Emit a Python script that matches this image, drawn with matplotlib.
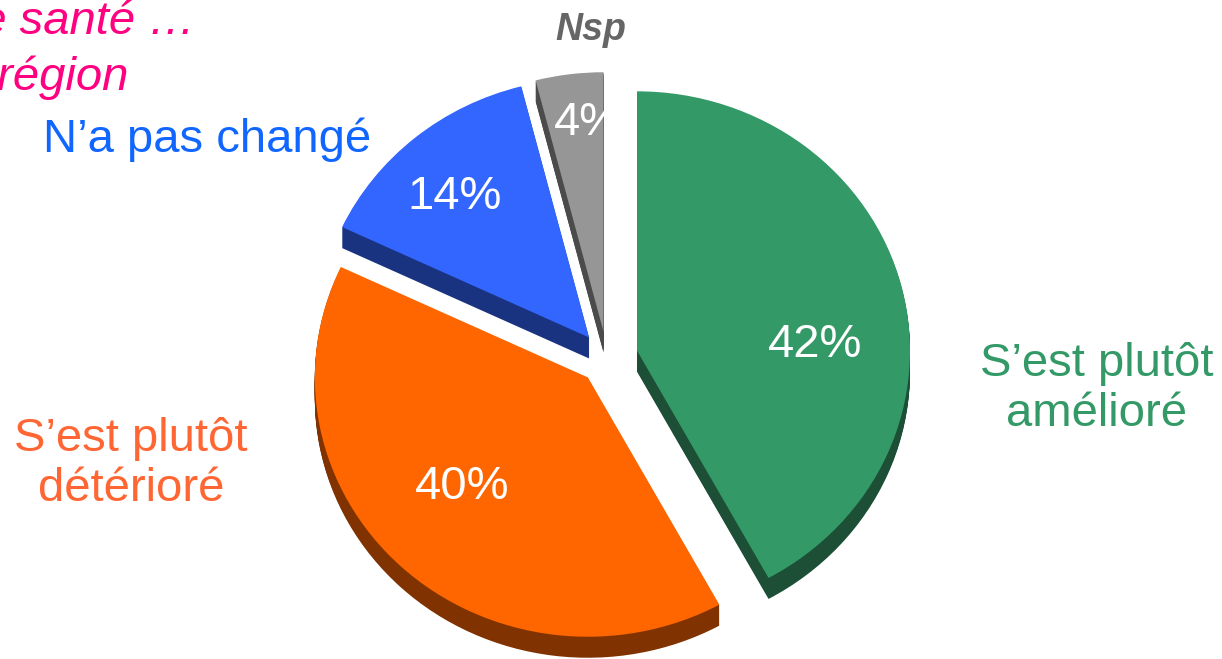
import numpy as np
import matplotlib
matplotlib.use('Agg')
import matplotlib.pyplot as plt

plt.rcParams['font.family'] = ['Liberation Sans', 'DejaVu Sans']

# 資料
categories = ["S\u2019est plutôt\namélioré", "S\u2019est plutôt\ndétérioré", "N\u2019a pas changé", "Nsp"]
values = [42, 40, 14, 4]
face_colors = ['#339966', '#ff6600', '#3366ff', '#969696']
side_colors = ['#1c4f35', '#803300', '#1a3380', '#4b4b4b']
label_colors = ['#339966', '#ff6633', '#1166ff', '#666666']

W, H = 1222, 659
SY = 0.95          # 垂直壓縮 (模擬 3D 傾斜)
CX, CY = 607, 358  # 圓心 (像素)
R = 273
DEPTH = 21
EXPLODE = [31, 28, 28, 28]  # 分離距離 (資料單位)


def py(y):
    return (H - y) / SY


fig = plt.figure(figsize=(W / 100, H / 100), dpi=100)
ax = fig.add_axes([0, 0, 1, 1])

# 側面 (陰影厚度)
for k in range(DEPTH, 0, -1):
    ax.pie(values, explode=EXPLODE, colors=side_colors, startangle=90,
           counterclock=False, radius=R, center=(CX, py(CY + k)),
           wedgeprops=dict(linewidth=0, antialiased=True))
# 頂面
ax.pie(values, explode=EXPLODE, colors=face_colors, startangle=90,
       counterclock=False, radius=R, center=(CX, py(CY)),
       wedgeprops=dict(linewidth=0))
ax.set_aspect('auto')
ax.set_xlim(0, W)
ax.set_ylim(0, H / SY)
ax.axis('off')

# 文字層
tx = fig.add_axes([0, 0, 1, 1])
tx.set_xlim(0, W)
tx.set_ylim(H, 0)
tx.axis('off')

pct_pos = [(815, 345), (462, 487), (455, 197), (588, 123)]
for v, (x, y) in zip(values, pct_pos):
    tx.text(x, y, f"{v}%", color='white', fontsize=34, ha='center', va='center')

label_pos = [(1097, 389), (131, 464), (207, 140)]
for cat, col, (x, y) in zip(categories[:3], label_colors[:3], label_pos):
    tx.text(x, y, cat, color=col, fontsize=34, ha='center', va='center',
            linespacing=1.2)

tx.text(591, 30, categories[3], color=label_colors[3], fontsize=27,
        fontweight='bold', fontstyle='italic', ha='center', va='center')

# 標題 (左上角被裁切)
tx.text(196, 22, "de santé \u2026", color='#ff0080', fontsize=34,
        fontstyle='italic', ha='right', va='center')
tx.text(128, 78, "votre région", color='#ff0080', fontsize=34,
        fontstyle='italic', ha='right', va='center')

fig.savefig('out.png', dpi=100)
